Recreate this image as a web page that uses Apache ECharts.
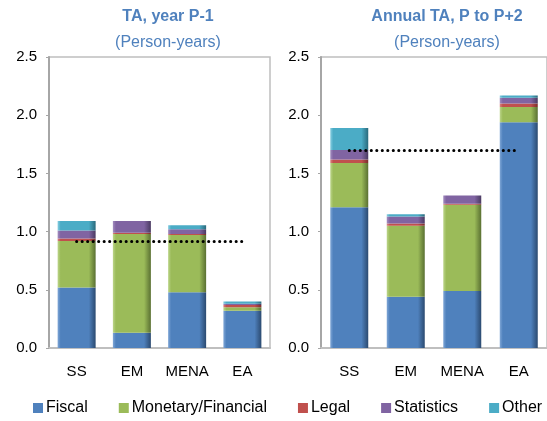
<!DOCTYPE html>
<html>
<head>
<meta charset="utf-8">
<script src="https://cdn.jsdelivr.net/npm/echarts@6/dist/echarts.min.js"></script>
<style>
html,body{margin:0;padding:0;background:#fff;}
#c{width:547px;height:421px;}
</style>
</head>
<body>
<div id="c"></div>
<script>
// ---- data ----
const categories = ['SS', 'EM', 'MENA', 'EA'];
const seriesNames = ['Fiscal', 'Monetary/Financial', 'Legal', 'Statistics', 'Other'];
// Left panel: TA, year P-1
const leftFiscal     = [0.52, 0.13, 0.48, 0.32];
const leftMonetary   = [0.40, 0.85, 0.49, 0.03];
const leftLegal      = [0.02, 0.01, 0.01, 0.02];
const leftStatistics = [0.07, 0.10, 0.04, 0.01];
const leftOther      = [0.08, 0.00, 0.035, 0.02];
const leftAverage    = 0.92;
// Right panel: Annual TA, P to P+2
const rightFiscal     = [1.21, 0.44, 0.49, 1.94];
const rightMonetary   = [0.38, 0.61, 0.74, 0.13];
const rightLegal      = [0.03, 0.02, 0.01, 0.03];
const rightStatistics = [0.08, 0.06, 0.07, 0.05];
const rightOther      = [0.19, 0.02, 0.00, 0.02];
const rightAverage    = 1.70;
const yTicks = { min: 0, max: 2.5, interval: 0.5 };

const colors = ['#4F81BD', '#9BBB59', '#C0504D', '#8064A2', '#4BACC6'];
const darks  = ['#2B4A70', '#5A7032', '#7A2E2C', '#4A3A61', '#2A6A7C'];
const lights = ['#7FA6D6', '#BCD58A', '#D98583', '#A38DC0', '#86CDE0'];

function fill(i) {
  return new echarts.graphic.LinearGradient(0, 0, 1, 0, [
    { offset: 0, color: lights[i] },
    { offset: 0.08, color: colors[i] },
    { offset: 0.82, color: colors[i] },
    { offset: 1, color: darks[i] }
  ]);
}

const leftData = [leftFiscal, leftMonetary, leftLegal, leftStatistics, leftOther];
const rightData = [rightFiscal, rightMonetary, rightLegal, rightStatistics, rightOther];

const chart = echarts.init(document.getElementById('c'), null, { renderer: 'canvas' });

function mkSeries(dataSets, gi, avg) {
  return dataSets.map((d, i) => {
    const s = {
      name: seriesNames[i],
      type: 'bar',
      stack: 'g' + gi,
      xAxisIndex: gi,
      yAxisIndex: gi,
      data: d,
      barWidth: 38,
      itemStyle: { color: fill(i) },
      emphasis: { disabled: true }
    };
    if (i === 4) {
      s.markLine = {
        silent: true,
        symbol: 'none',
        label: { show: false },
        lineStyle: { color: '#000', type: [0.1, 5.4], width: 3, cap: 'round' },
        data: [[{ coord: [categories[0], avg] }, { coord: [categories[3], avg] }]]
      };
    }
    return s;
  });
}

const titleColor = '#4F81BD';
const font = '"Liberation Sans", Arial, sans-serif';

function axisX(gi) {
  return {
    type: 'category', gridIndex: gi, data: categories,
    axisLine: { show: true, lineStyle: { color: '#BFBFBF', width: 2 } },
    axisTick: { show: false },
    axisLabel: { color: '#000', fontSize: 15, fontFamily: font, margin: 16, interval: 0 }
  };
}
function axisY(gi) {
  return {
    type: 'value', gridIndex: gi, min: yTicks.min, max: yTicks.max, interval: yTicks.interval,
    axisLine: { show: true, lineStyle: { color: '#A6A6A6', width: 2 } },
    axisTick: { show: true, length: 3, lineStyle: { color: '#A6A6A6' } },
    splitLine: { show: false },
    axisLabel: { color: '#000', fontSize: 15, fontFamily: font, margin: 12,
      formatter: v => v.toFixed(1) }
  };
}

chart.setOption({
  animation: false,
  color: colors,
  title: [
    { text: 'TA, year P-1', left: 163, top: 4, textAlign: 'center',
      textStyle: { color: titleColor, fontSize: 16, fontWeight: 'bold', fontFamily: font } },
    { text: '(Person-years)', left: 163, top: 30, textAlign: 'center',
      textStyle: { color: titleColor, fontSize: 16, fontWeight: 'normal', fontFamily: font } },
    { text: 'Annual TA, P to P+2', left: 442, top: 4, textAlign: 'center',
      textStyle: { color: titleColor, fontSize: 16, fontWeight: 'bold', fontFamily: font } },
    { text: '(Person-years)', left: 442, top: 30, textAlign: 'center',
      textStyle: { color: titleColor, fontSize: 16, fontWeight: 'normal', fontFamily: font } }
  ],
  legend: {
    data: seriesNames.map((n, i) => ({ name: n, itemStyle: { color: colors[i] } })),
    bottom: 5, left: 33, width: 600, padding: 0,
    itemWidth: 10, itemHeight: 10, itemGap: 31,
    icon: 'rect',
    textStyle: { color: '#000', fontSize: 16, fontFamily: font, padding: [0, 0, 0, -2] }
  },
  grid: [
    { left: 49, top: 57, width: 221, bottom: 73, show: true, borderColor: '#BFBFBF', borderWidth: 1.5 },
    { left: 321, top: 57, right: -4, bottom: 73, show: true, borderColor: '#BFBFBF', borderWidth: 1.5 }
  ],
  xAxis: [axisX(0), axisX(1)],
  yAxis: [axisY(0), axisY(1)],
  series: [...mkSeries(leftData, 0, leftAverage), ...mkSeries(rightData, 1, rightAverage)]
});
</script>
</body>
</html>
